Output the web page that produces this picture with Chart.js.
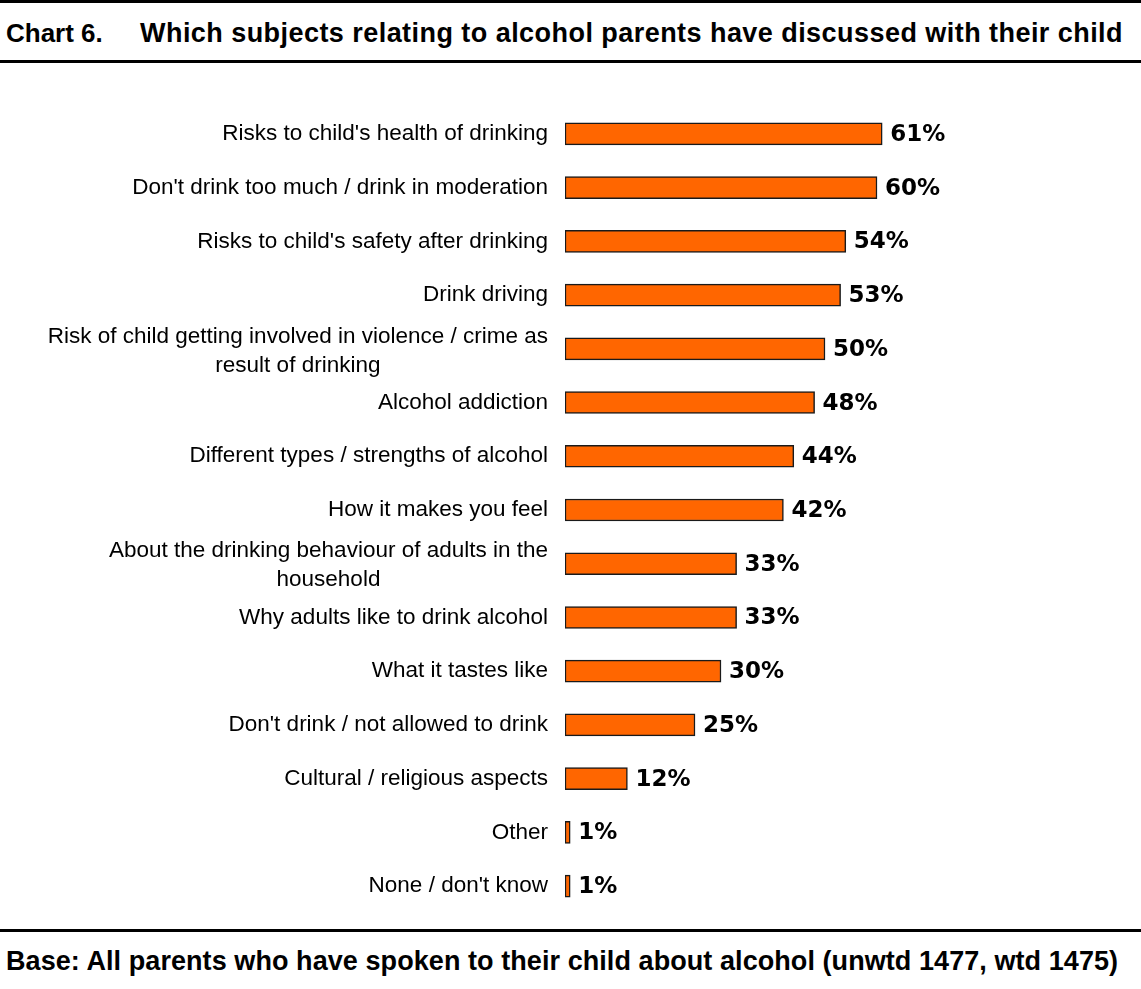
<!DOCTYPE html>
<html>
<head>
<meta charset="utf-8">
<script src="https://cdn.jsdelivr.net/npm/chart.js@4"></script>
<style>
  html, body { margin:0; padding:0; background:#fff; }
  body { width:1141px; height:989px; position:relative; overflow:hidden; font-family:"Liberation Sans", Arial, sans-serif; }
  .rule { position:absolute; left:0; width:1141px; height:3px; background:#000; }
  .title { position:absolute; top:20px; font-weight:bold; font-size:27px; line-height:27px; letter-spacing:0.45px; color:#000; white-space:nowrap; }
  .base { position:absolute; left:6px; top:948px; font-weight:bold; font-size:27px; line-height:27px; letter-spacing:0.07px; color:#000; white-space:nowrap; }
  #wrap { position:absolute; left:0; top:70px; width:1141px; height:850px; }
</style>
</head>
<body>
<div class="rule" style="top:0"></div>
<div class="title" style="left:6px; font-size:26px; letter-spacing:0">Chart 6.</div>
<div class="title" style="left:140px">Which subjects relating to alcohol parents have discussed with their child</div>
<div class="rule" style="top:60px"></div>
<div id="wrap"><canvas id="chart"></canvas></div>
<div class="rule" style="top:929px"></div>
<div class="base">Base: All parents who have spoken to their child about alcohol (unwtd 1477, wtd 1475)</div>

<script>
// categories (multi-line ones as arrays)
const categories = [
  "Risks to child's health of drinking",
  "Don't drink too much / drink in moderation",
  "Risks to child's safety after drinking",
  "Drink driving",
  ["Risk of child getting involved in violence / crime as", "result of drinking"],
  "Alcohol addiction",
  "Different types / strengths of alcohol",
  "How it makes you feel",
  ["About the drinking behaviour of adults in the", "household"],
  "Why adults like to drink alcohol",
  "What it tastes like",
  "Don't drink / not allowed to drink",
  "Cultural / religious aspects",
  "Other",
  "None / don't know"
];
const values = [61, 60, 54, 53, 50, 48, 44, 42, 33, 33, 30, 25, 12, 1, 1];

const LABEL_FONT = '22.5px "Liberation Sans", Arial, sans-serif';
const VALUE_FONT = 'bold 23px "DejaVu Sans", Verdana, sans-serif';

// category labels: right edge fixed, extra lines centred under the first
const catLabels = {
  id: 'catLabels',
  afterDraw(chart) {
    const { ctx, scales: { y } } = chart;
    ctx.save();
    ctx.font = LABEL_FONT;
    ctx.fillStyle = '#000';
    ctx.textBaseline = 'middle';
    ctx.textAlign = 'center';
    const right = y.right - 17;
    const lh = 29;
    categories.forEach((c, i) => {
      const lines = Array.isArray(c) ? c : [c];
      const w = Math.max(...lines.map(l => ctx.measureText(l).width));
      const cx = right - w / 2;
      const yc = y.getPixelForTick(i) + (lines.length > 1 ? 2 : 0);
      const y0 = yc - (lines.length - 1) * lh / 2;
      lines.forEach((l, k) => ctx.fillText(l, cx, y0 + k * lh));
    });
    ctx.restore();
  }
};

// percentage at the end of each bar
const valueLabels = {
  id: 'valueLabels',
  afterDatasetsDraw(chart) {
    const { ctx } = chart;
    const meta = chart.getDatasetMeta(0);
    ctx.save();
    ctx.font = VALUE_FONT;
    ctx.fillStyle = '#000';
    ctx.textBaseline = 'middle';
    ctx.textAlign = 'left';
    meta.data.forEach((bar, i) => {
      ctx.fillText(values[i] + '%', bar.x + 8, bar.y + 1);
    });
    ctx.restore();
  }
};

new Chart(document.getElementById('chart'), {
  type: 'bar',
  data: {
    labels: categories,
    datasets: [{
      data: values,
      backgroundColor: '#FF6600',
      borderColor: '#1a1a1a',
      borderWidth: 1.5,
      borderSkipped: false,
      barThickness: 22
    }]
  },
  options: {
    indexAxis: 'y',
    responsive: true,
    maintainAspectRatio: false,
    animation: false,
    layout: { padding: { top: 37, bottom: 7, left: 0, right: 56 } },
    plugins: { legend: { display: false }, tooltip: { enabled: false } },
    scales: {
      x: { display: false, min: 0, max: 100 },
      y: {
        afterFit: s => { s.width = 565; },
        grid: { display: false, drawTicks: false },
        border: { display: false },
        ticks: { display: false }
      }
    }
  },
  plugins: [catLabels, valueLabels]
});
</script>
</body>
</html>
